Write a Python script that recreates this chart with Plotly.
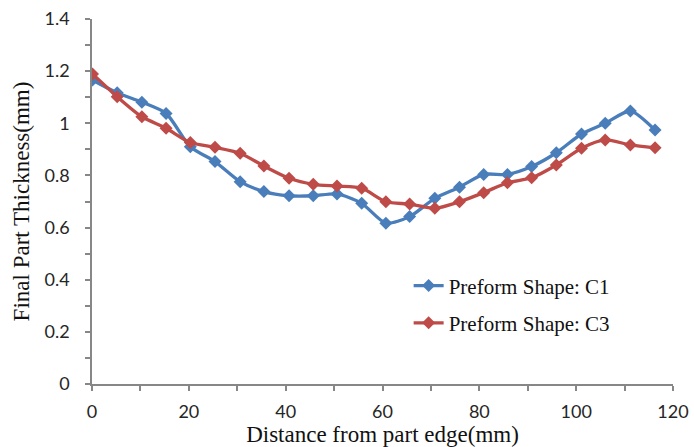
import plotly.graph_objects as go

# Distance from part edge (mm) at each measurement station
distance_mm = [0.1, 5.2, 10.3, 15.3, 20.3, 25.4, 30.6, 35.5, 40.7, 45.7, 50.6, 55.7,
               60.7, 65.6, 70.8, 75.9, 80.9, 85.8, 90.8, 95.9, 101.1, 106.0, 111.2, 116.3]

# Final part thickness (mm) for each preform shape
thickness_c1 = [1.166, 1.117, 1.081, 1.038, 0.910, 0.853, 0.776, 0.738, 0.722, 0.722, 0.729, 0.693,
                0.617, 0.642, 0.712, 0.755, 0.804, 0.804, 0.834, 0.887, 0.959, 1.000, 1.047, 0.974]
thickness_c3 = [1.189, 1.102, 1.025, 0.981, 0.926, 0.908, 0.885, 0.836, 0.789, 0.766, 0.759, 0.751,
                0.699, 0.690, 0.674, 0.699, 0.734, 0.772, 0.791, 0.840, 0.904, 0.936, 0.917, 0.906]

series_names = ["Preform Shape: C1", "Preform Shape: C3"]
series_colors = ["#4A7EBB", "#BE4B48"]

x_ticks = [0, 20, 40, 60, 80, 100, 120]
y_ticks = [0, 0.2, 0.4, 0.6, 0.8, 1.0, 1.2, 1.4]
y_tick_text = ["0", "0.2", "0.4", "0.6", "0.8", "1", "1.2", "1.4"]

fig = go.Figure()
for i, (name, values, color) in enumerate(zip(series_names, [thickness_c1, thickness_c3], series_colors)):
    fig.add_trace(go.Scatter(
        x=distance_mm, y=values, name=name, mode="lines+markers",
        line=dict(color=color, width=3.3, shape="spline", smoothing=0.7),
        marker=dict(symbol="diamond", size=10, color=color),
        legendgroup=f"g{i}",
    ))

axis_color = "#878787"
tick_font = dict(family="Lato, Open Sans, sans-serif", size=18, color="#262626")
title_font = dict(family="Liberation Serif, Times New Roman, serif", size=23, color="#111111")

fig.update_layout(
    width=694, height=447,
    margin=dict(l=92, r=21, t=19, b=63),
    paper_bgcolor="white", plot_bgcolor="white",
    showlegend=True,
    legend=dict(
        x=0.545, y=0.325, xanchor="left", yanchor="top",
        font=dict(family="Liberation Serif, Times New Roman, serif", size=21, color="#111111"),
        bgcolor="rgba(0,0,0,0)", tracegroupgap=7, itemwidth=30,
    ),
    xaxis=dict(
        range=[0, 120], tickmode="array", tickvals=x_ticks, automargin=False,
        showgrid=False, zeroline=False, showline=True, linecolor=axis_color, linewidth=1.5,
        ticks="outside", ticklen=5, tickcolor=axis_color, tickwidth=1.5,
        minor=dict(dtick=10, ticks="outside", ticklen=5, tickcolor=axis_color, tickwidth=1.5),
        tickfont=tick_font, ticklabelstandoff=6,
        title=dict(text="Distance from part edge(mm)", font=title_font, standoff=0),
    ),
    yaxis=dict(
        range=[0, 1.4], tickmode="array", tickvals=y_ticks, ticktext=y_tick_text, automargin=False,
        showgrid=False, zeroline=False, showline=True, linecolor=axis_color, linewidth=1.5,
        ticks="outside", ticklen=5, tickcolor=axis_color, tickwidth=1.5,
        minor=dict(dtick=0.1, ticks="outside", ticklen=5, tickcolor=axis_color, tickwidth=1.5),
        tickfont=tick_font, ticklabelstandoff=12,
        title=dict(text="Final Part Thickness(mm)", font=title_font, standoff=8),
    ),
)

fig.write_html("out.html")
